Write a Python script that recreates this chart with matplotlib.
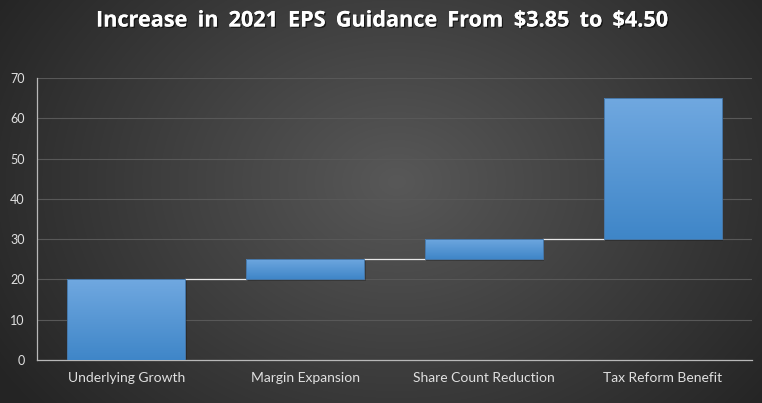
import numpy as np
import matplotlib
matplotlib.use("Agg")
import matplotlib.pyplot as plt
import matplotlib.patheffects as pe
from matplotlib.patches import Rectangle

categories = ["Underlying Growth", "Margin Expansion", "Share Count Reduction", "Tax Reform Benefit"]
increments = [20, 5, 5, 35]
y_ticks = [0, 10, 20, 30, 40, 50, 60, 70]
title_words = ["Increase", "in", "2021", "EPS", "Guidance", "From", r"\$3.85", "to", r"\$4.50"]

plt.rcParams["font.family"] = ["Lato", "DejaVu Sans"]

W, H = 762, 403
fig = plt.figure(figsize=(W / 100, H / 100), dpi=100)

# radial gradient background
bg = fig.add_axes([0, 0, 1, 1], zorder=-10)
yy, xx = np.mgrid[0:H, 0:W]
cx, cy = W * 0.52, H * 0.45
r = np.sqrt(((xx - cx) / (W * 0.62)) ** 2 + ((yy - cy) / (H * 0.9)) ** 2)
r = np.clip(r, 0, 1)
inner = np.array([0x58, 0x58, 0x58]) / 255
outer = np.array([0x24, 0x24, 0x24]) / 255
img = inner[None, None, :] * (1 - r[..., None]) + outer[None, None, :] * r[..., None]
bg.imshow(img, extent=[0, 1, 0, 1], aspect="auto", origin="upper")
bg.axis("off")

ax = fig.add_axes([37 / W, 1 - 360 / H, (752 - 37) / W, (360 - 78) / H])
ax.set_facecolor("none")

x = np.arange(len(categories))
bottoms = np.concatenate([[0], np.cumsum(increments)[:-1]])
tops = bottoms + np.array(increments)
bw = 0.66

grad = np.linspace(0, 1, 256)[:, None]
top_c = np.array([0x70, 0xa8, 0xe0]) / 255
bot_c = np.array([0x3f, 0x86, 0xc8]) / 255
gimg = top_c[None, None, :] * (1 - grad[..., None]) + bot_c[None, None, :] * grad[..., None]
gimg = np.repeat(gimg, 2, axis=1)

for xi, b, t in zip(x, bottoms, tops):
    sh = Rectangle((xi - bw / 2 + 0.008, b - 0.45), bw, t - b, facecolor="black",
                   alpha=0.22, edgecolor="none", zorder=2)
    ax.add_patch(sh)
    rect = Rectangle((xi - bw / 2, b), bw, t - b, facecolor="none",
                     edgecolor="#4677a8", linewidth=0.7, zorder=4)
    ax.add_patch(rect)
    im = ax.imshow(gimg, extent=[xi - bw / 2, xi + bw / 2, b, t], aspect="auto",
                   origin="upper", zorder=3)
    im.set_clip_path(rect)

for i in range(len(categories) - 1):
    ax.plot([x[i] + bw / 2, x[i + 1] - bw / 2], [tops[i], tops[i]], color="#e8e8e8",
            linewidth=0.9, zorder=3)

ax.set_xlim(-0.5, len(categories) - 0.5)
ax.set_ylim(0, 70)
ax.set_yticks(y_ticks)
ax.set_xticks(x)
ax.set_xticklabels(categories)
ax.yaxis.grid(True, color="#585858", linewidth=0.8)
ax.set_axisbelow(True)
ax.tick_params(axis="both", length=0, colors="#e0e0e0")
ax.tick_params(axis="y", labelsize=9, pad=9)
ax.tick_params(axis="x", labelsize=10, pad=9)
for s in ["top", "right"]:
    ax.spines[s].set_visible(False)
for s in ["left", "bottom"]:
    ax.spines[s].set_color("#b8b8b8")
    ax.spines[s].set_linewidth(0.9)

# title: words sized/spread to the reference width
renderer = fig.canvas.get_renderer()
x0, x1, word_gap = 96, 668, 10
fs = 14.5
texts = []
for w in title_words:
    t = fig.text(0, 1 - 21 / H, w, ha="left", va="center", color="white",
                 fontsize=fs, fontweight="bold", family=["Open Sans", "DejaVu Sans"],
                 path_effects=[pe.withSimplePatchShadow(offset=(1, -1), shadow_rgbFace="black", alpha=0.6), pe.Normal()])
    texts.append(t)
for _ in range(3):
    widths = [t.get_window_extent(renderer).width for t in texts]
    target = x1 - x0 - word_gap * (len(title_words) - 1)
    fs = fs * target / sum(widths)
    for t in texts:
        t.set_fontsize(fs)
widths = [t.get_window_extent(renderer).width for t in texts]
gap = (x1 - x0 - sum(widths)) / (len(title_words) - 1)
pos = x0
for t, wdt in zip(texts, widths):
    t.set_x(pos / W)
    pos += wdt + gap

fig.savefig("out.png", dpi=100)
